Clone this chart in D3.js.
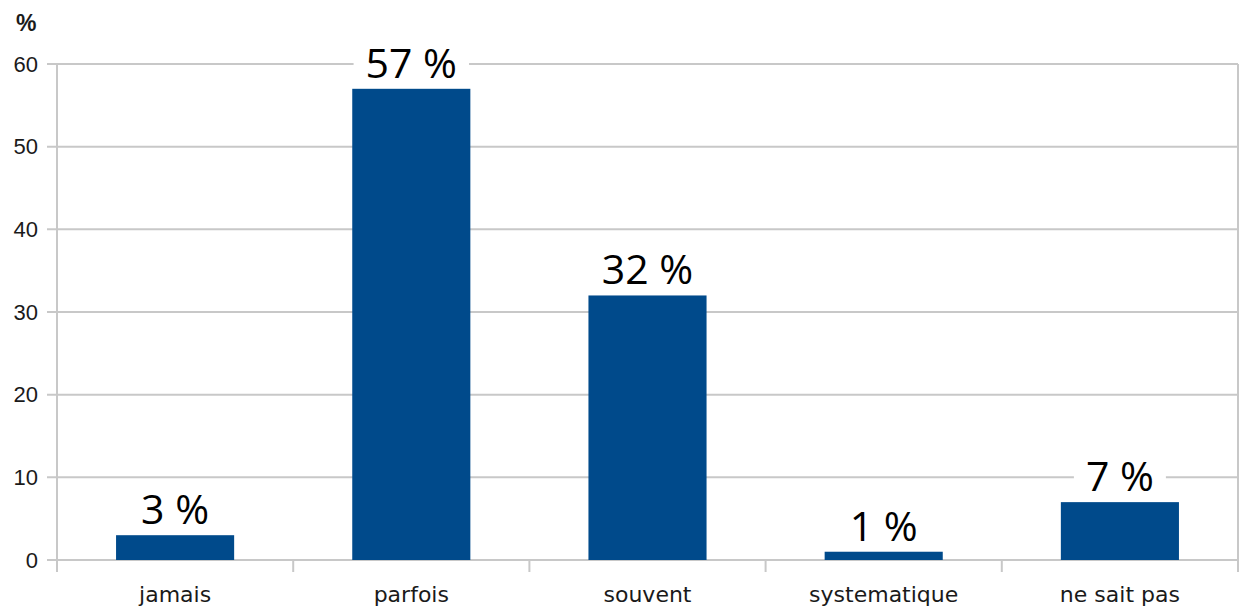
<!DOCTYPE html>
<html lang="fr">
<head>
  <meta charset="UTF-8">
  <title>Réponses</title>
  <script src="https://d3js.org/d3.v7.min.js"></script>
  <style>
    html, body {
      margin: 0;
      background: #fff;
    }
    .tick-y {
      font-family: "Liberation Sans", Arial, sans-serif;
      font-size: 22px;
      fill: #1a1a1a;
    }
    .tick-x {
      font-family: "DejaVu Sans", sans-serif;
      font-size: 22px;
      fill: #1a1a1a;
    }
    .value {
      font-family: "Open Sans", sans-serif;
      font-size: 41px;
      fill: #000;
    }
    .unit {
      font-family: "Liberation Sans", Arial, sans-serif;
      font-size: 23px;
      font-weight: bold;
      fill: #1a1a1a;
    }
  </style>
</head>
<body>
  <div id="chart"></div>

  <script>
    const categories = ["jamais", "parfois", "souvent", "systematique", "ne sait pas"];
    const values = [3, 57, 32, 1, 7];
    const yTicks = [0, 10, 20, 30, 40, 50, 60];

    const W = 1241, H = 610;
    const margin = { top: 64, right: 3, bottom: 50, left: 57 };
    const width = W - margin.left - margin.right,
          height = H - margin.top - margin.bottom;

    const gridColor = "#c8c8c8";
    const barColor = "#004a8b";

    const svg = d3.select("#chart")
      .append("svg")
      .attr("width", W)
      .attr("height", H);

    const g = svg.append("g")
      .attr("transform", `translate(${margin.left},${margin.top})`);

    const x = d3.scaleBand().domain(categories).range([0, width]).padding(0);
    const y = d3.scaleLinear().domain([0, 60]).range([height, 0]);

    // horizontal grid lines + small ticks on the left
    g.selectAll("line.grid")
      .data(yTicks)
      .enter()
      .append("line")
      .attr("x1", -10)
      .attr("x2", width)
      .attr("y1", d => y(d))
      .attr("y2", d => y(d))
      .attr("stroke", gridColor)
      .attr("stroke-width", 2);

    // y tick labels
    g.selectAll("text.tick-y")
      .data(yTicks)
      .enter()
      .append("text")
      .attr("class", "tick-y")
      .attr("x", -19)
      .attr("y", d => y(d))
      .attr("dy", "0.35em")
      .attr("text-anchor", "end")
      .text(d => d);

    // vertical lines: left axis, category separators (ticks), right border
    const bounds = categories.map(c => x(c)).concat([width]);
    g.selectAll("line.sep")
      .data(bounds)
      .enter()
      .append("line")
      .attr("x1", d => d)
      .attr("x2", d => d)
      .attr("y1", (d, i) => (i === 0 || i === bounds.length - 1) ? 0 : height)
      .attr("y2", height + 12)
      .attr("stroke", gridColor)
      .attr("stroke-width", 2);

    // bars
    const barW = x.bandwidth() * 0.5;
    g.selectAll("rect.bar")
      .data(values)
      .enter()
      .append("rect")
      .attr("x", (d, i) => x(categories[i]) + (x.bandwidth() - barW) / 2)
      .attr("y", d => y(d))
      .attr("width", barW)
      .attr("height", d => y(0) - y(d))
      .attr("fill", barColor);

    // category labels
    g.selectAll("text.tick-x")
      .data(categories)
      .enter()
      .append("text")
      .attr("class", "tick-x")
      .attr("x", d => x(d) + x.bandwidth() / 2)
      .attr("y", height + 42)
      .attr("text-anchor", "middle")
      .text(d => d);

    // value labels with white background
    values.forEach((v, i) => {
      const lg = g.append("g");
      const bg = lg.append("rect").attr("fill", "#fff");
      const t = lg.append("text")
        .attr("class", "value")
        .attr("x", x(categories[i]) + x.bandwidth() / 2)
        .attr("y", y(v) - 11)
        .attr("text-anchor", "middle")
        .text(v + " %");
      const bb = t.node().getBBox();
      bg.attr("x", bb.x - 12)
        .attr("y", bb.y + 4)
        .attr("width", bb.width + 24)
        .attr("height", bb.height - 8);
    });

    // unit label
    svg.append("text")
      .attr("class", "unit")
      .attr("x", 16)
      .attr("y", 31)
      .text("%");
  </script>
</body>
</html>
